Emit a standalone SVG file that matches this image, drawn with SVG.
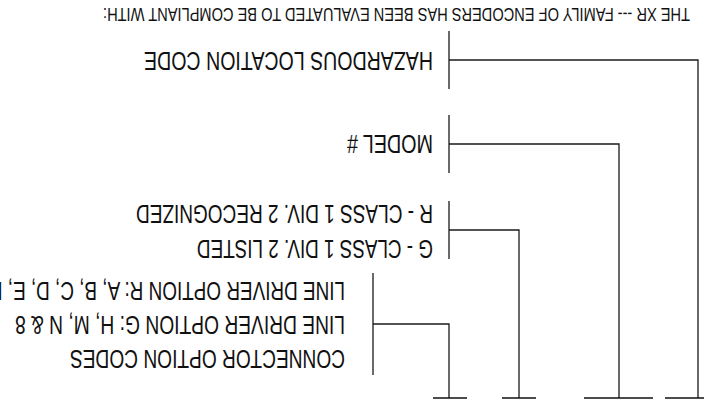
<svg xmlns="http://www.w3.org/2000/svg" width="704" height="402" viewBox="0 0 704 402">
<style>
text{font-family:"Liberation Sans",Arial,sans-serif;fill:#111;}
.lbl{font-size:25px;}
.hdr{font-size:18px;}
.ln{stroke:#1a1a1a;stroke-width:1.3;fill:none;}
.tee{stroke:#111;stroke-width:1.6;fill:none;}
</style>
<rect width="704" height="402" fill="#fff"/>
<g id="header">
<text class="hdr" x="690" y="8" transform="rotate(180 690 8)" textLength="587" lengthAdjust="spacingAndGlyphs">THE XR --- FAMILY OF ENCODERS HAS BEEN EVALUATED TO BE COMPLIANT WITH:</text>
</g>
<g id="node-hazardous">
<text class="lbl" x="433" y="52" transform="rotate(180 433 52)" textLength="289" lengthAdjust="spacingAndGlyphs">HAZARDOUS LOCATION CODE</text>
<line class="ln" x1="449" y1="31" x2="449" y2="89"/>
</g>
<g id="node-model">
<text class="lbl" x="433" y="135" transform="rotate(180 433 135)" textLength="86" lengthAdjust="spacingAndGlyphs">MODEL #</text>
<line class="ln" x1="449" y1="115" x2="449" y2="173"/>
</g>
<g id="node-class">
<text class="lbl" x="433" y="205" transform="rotate(180 433 205)" textLength="297" lengthAdjust="spacingAndGlyphs">R - CLASS 1 DIV. 2 RECOGNIZED</text>
<text class="lbl" x="433" y="240" transform="rotate(180 433 240)" textLength="236" lengthAdjust="spacingAndGlyphs">G - CLASS 1 DIV. 2 LISTED</text>
<line class="ln" x1="449" y1="201" x2="449" y2="259"/>
</g>
<g id="node-connector">
<text class="lbl" x="345" y="282" transform="rotate(180 345 282)" textLength="354" lengthAdjust="spacingAndGlyphs">LINE DRIVER OPTION R: A, B, C, D, E, F</text>
<text class="lbl" x="345" y="316" transform="rotate(180 345 316)" textLength="330" lengthAdjust="spacingAndGlyphs">LINE DRIVER OPTION G: H, M, N &amp; 8</text>
<text class="lbl" x="345" y="350" transform="rotate(180 345 350)" textLength="275" lengthAdjust="spacingAndGlyphs">CONNECTOR OPTION CODES</text>
<line class="ln" x1="373" y1="273" x2="373" y2="375"/>
</g>
<g id="connectors">
<polyline class="ln" points="449,60 698,60 698,398"/>
<polyline class="ln" points="449,144 619,144 619,398"/>
<polyline class="ln" points="449,230 519,230 519,398"/>
<polyline class="ln" points="373,324 449,324 449,398"/>
<line class="tee" x1="433" y1="398" x2="467" y2="398"/>
<line class="tee" x1="502" y1="398" x2="536" y2="398"/>
<line class="tee" x1="584" y1="398" x2="653" y2="398"/>
<line class="tee" x1="665" y1="398" x2="731" y2="398"/>
</g>
</svg>
